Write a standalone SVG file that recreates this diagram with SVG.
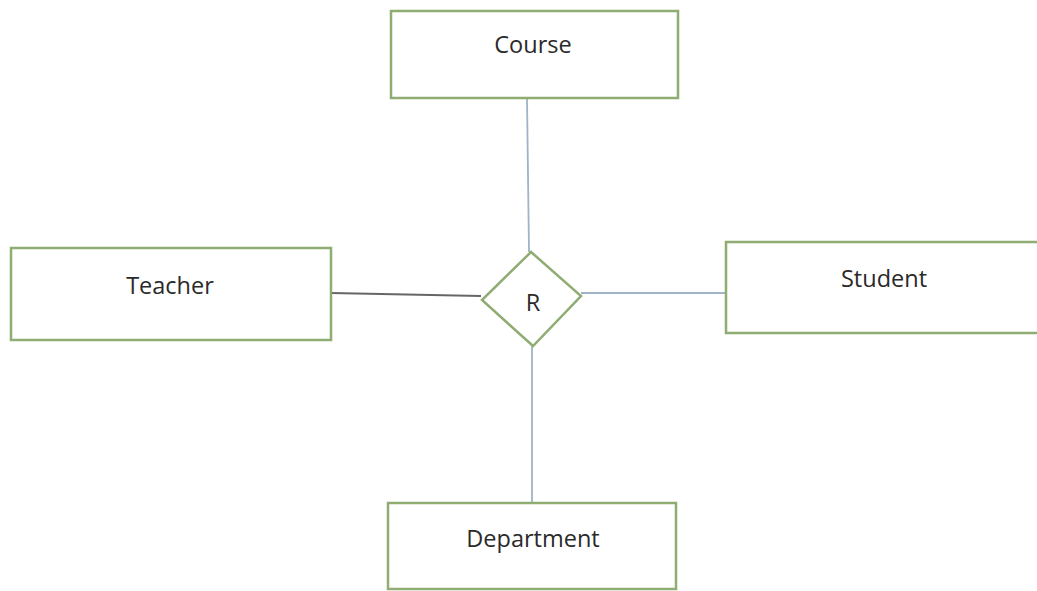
<svg xmlns="http://www.w3.org/2000/svg" width="1037" height="591" viewBox="0 0 1037 591">
<style>
.box{fill:#ffffff;stroke:#8fac72;stroke-width:2.5}
.lbl{font-family:"Open Sans","Liberation Sans",sans-serif;font-size:23.5px;fill:#2a2a2a;text-anchor:middle}
.ln{stroke:#9fb4c8;stroke-width:1.8;fill:none}
</style>
<rect width="1037" height="591" fill="#ffffff"/>
<g id="connectors">
<line class="ln" x1="527" y1="98" x2="529" y2="252"/>
<line class="ln" x1="331" y1="293" x2="481" y2="296" style="stroke:#666666"/>
<line class="ln" x1="581" y1="293" x2="726" y2="293"/>
<line class="ln" x1="532" y1="346" x2="532" y2="503"/>
</g>
<g id="course"><rect class="box" x="391" y="11" width="287" height="87"/><text class="lbl" x="533" y="53">Course</text></g>
<g id="teacher"><rect class="box" x="11" y="248" width="320" height="92"/><text class="lbl" x="170" y="294">Teacher</text></g>
<g id="student"><rect class="box" x="726" y="242" width="318" height="91"/><text class="lbl" x="884" y="287">Student</text></g>
<g id="department"><rect class="box" x="388" y="503" width="288" height="86"/><text class="lbl" x="533" y="547">Department</text></g>
<g id="r"><polygon class="box" points="531,252 581,296 533,346 482,300"/><text class="lbl" x="533" y="311">R</text></g>
</svg>
